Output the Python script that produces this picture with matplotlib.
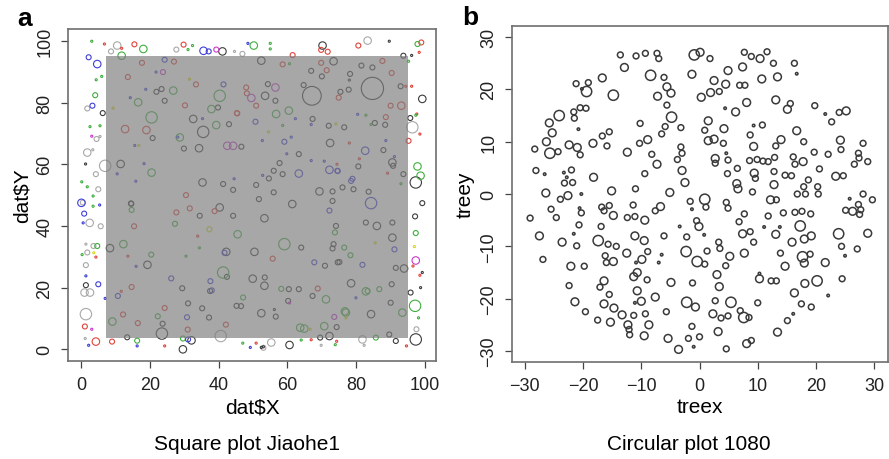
import matplotlib
matplotlib.use("Agg")
import matplotlib.pyplot as plt
from matplotlib.patches import Rectangle

plt.rcParams['font.family'] = ['Liberation Sans', 'DejaVu Sans']

# ---------------- panel a : Jiaohe1 square plot (x, y, size class) by colour group
core_x0, core_x1 = 7.2, 94.9      # shaded core area
core_y0, core_y1 = 3.7, 95.0

a_black_x = [41.1, 70.2, 89.6, 93.7, 6.3, 1.3, 99.2, 95.7, 97.3, 99.2, 97.1,
             67.1, 84.7, 35.5, 32.6, 20.8, 21.9, 23.4, 24.3, 39.8, 43.0, 29.9, 34.3, 46.6,
             52.4, 53.5, 54.3, 56.5, 64.7, 66.9, 70.0, 73.4, 78.2, 78.0, 81.5, 84.7, 92.9,
             75.4, 77.8, 72.4, 76.5, 87.9, 90.5, 93.7, 90.7, 85.4, 88.4, 67.3, 72.0, 63.3,
             58.6, 56.0, 54.6, 69.3, 73.1, 76.0, 79.2, 83.6, 73.1, 80.6, 61.4, 53.3, 40.3,
             44.2, 35.3, 41.3, 44.2, 50.9, 56.0, 51.7, 57.7, 11.5, 14.5, 34.5, 86.0, 82.8,
             90.5, 74.1,
             1.4, 8.4, 29.6, 19.3, 23.5, 23.7, 32.1, 13.4, 29.4, 31.1, 35.2, 37.2, 37.5,
             42.2, 49.9, 50.4, 53.4, 53.3, 42.4, 45.2, 52.4, 56.6, 64.0, 60.4, 63.3, 60.2,
             67.3, 60.6, 73.1, 73.4, 75.1, 70.9, 78.5, 69.5, 72.2, 74.3, 84.3, 90.3, 90.0,
             90.5, 93.9, 95.8, 91.5, 97.3, 99.2, 98.7, 14.6, 46.5, 53.0,
             96.1, 56.2, 74.6, 91.5, 89.6, 52.4]
a_black_y = [96.6, 98.5, 99.9, 95.2, 76.6, 60.1, 81.2, 75.0, 54.1, 47.4, 43.1,
             82.2, 84.6, 70.5, 74.7, 68.5, 83.5, 84.4, 80.6, 78.4, 73.0, 65.1, 65.2, 65.7,
             93.6, 82.2, 86.0, 80.6, 85.7, 90.3, 88.5, 93.4, 89.3, 87.3, 92.0, 91.4, 85.3,
             83.5, 84.2, 66.9, 72.0, 64.6, 60.6, 56.8, 59.5, 73.4, 72.8, 74.7, 72.5, 63.3,
             56.8, 57.9, 55.4, 51.2, 51.2, 52.5, 51.9, 51.1, 48.1, 59.3, 47.1, 42.5, 46.0,
             43.3, 54.1, 53.6, 51.7, 53.3, 50.9, 48.7, 60.4, 60.1, 47.3, 43.3, 40.0, 41.1,
             41.1, 40.0,
             20.8, 32.8, 0.0, 27.4, 5.1, 8.3, 2.9, 3.9, 19.8, 14.9, 13.3, 10.3, 18.9,
             31.6, 22.9, 31.6, 23.3, 20.6, 23.5, 14.1, 11.7, 10.6, 33.0, 19.5, 19.5, 15.7,
             17.3, 1.4, 32.7, 34.1, 28.3, 27.1, 21.4, 3.8, 4.3, 7.2, 11.4, 21.1, 15.1,
             36.2, 26.2, 18.4, 2.7, 3.2, 24.9, 20.0, 47.2, 14.0, 0.8,
             95.3, 12.9, 28.2, 26.4, 4.8, 0.6]
a_black_s = [3, 3, 1, 2, 2, 1, 3, 2, 4, 2, 2,
             5, 6, 4, 3, 2, 2, 2, 2, 2, 2, 2, 3, 2,
             3, 3, 2, 2, 2, 2, 2, 3, 2, 1, 2, 2, 2,
             2, 2, 3, 2, 2, 3, 2, 2, 2, 2, 2, 2, 2,
             2, 2, 2, 3, 2, 2, 2, 2, 2, 2, 3, 3, 3,
             2, 3, 2, 2, 2, 2, 2, 2, 3, 2, 2, 3, 2,
             2, 2,
             2, 3, 3, 3, 4, 2, 3, 2, 2, 2, 2, 2, 2,
             3, 3, 3, 2, 3, 2, 2, 3, 2, 2, 2, 2, 2,
             2, 3, 2, 2, 2, 2, 3, 2, 3, 2, 3, 2, 2,
             3, 3, 2, 2, 4, 1, 1, 2, 2, 1,
             1, 1, 2, 2, 2, 1]

a_grey_x = [10.5, 8.7, 27.7, 44.6, 46.9, 83.3, 1.8, 1.8, 3.4, 4.3, 5.0, 0.5, 5.5, 4.5,
            7.0, 96.3, 1.4, 1.0, 2.6, 1.4, 1.2, 1.8, 3.6, 1.4, 55.3, 53.0, 81.8, 97.5, 40.6,
            2.5, 5.7, 82.3, 69.8]
a_grey_y = [98.5, 96.6, 97.2, 96.6, 95.8, 100.1, 78.1, 63.8, 64.7, 56.8, 51.9, 47.6, 69.0, 68.2,
            59.5, 72.0, 11.4, 18.4, 18.4, 27.3, 3.5, 31.4, 33.5, 34.1, 2.2, 0.5, 3.2, 6.5, 4.3,
            41.0, 39.9, 1.3, 1.3]
a_grey_s = [3, 2, 2, 1, 2, 3, 2, 3, 1, 2, 2, 2, 1, 2,
            4, 4, 4, 3, 3, 2, 1, 2, 2, 1, 3, 2, 3, 2, 4,
            3, 2, 1, 1]

a_red_x = [6.8, 11.8, 15.5, 29.8, 61.5, 69.8, 71.7, 80.6, 98.9, 98.3, 97.6, 95.2, 98.5,
           12.8, 19.0, 48.0, 50.9, 48.2, 45.4, 90.3, 90.0, 93.1, 27.7, 31.6, 4.3, 1.1,
           9.0, 24.3, 14.7, 55.7, 68.8, 13.6, 33.4, 30.2, 17.7, 27.0, 45.3, 30.5, 15.4,
           12.2, 16.5, 98.5, 96.5, 94.6,
           58.6, 69.8, 71.4, 87.6, 74.9, 88.6, 94.4, 96.1, 78.0, 74.4, 80.9, 89.1, 4.3,
           13.6, 11.7, 24.3, 33.9, 31.0, 42.1, 38.8, 66.9, 50.9, 74.3]
a_red_y = [99.0, 97.6, 98.9, 98.8, 95.4, 97.1, 96.5, 98.5, 99.5, 96.3, 76.3, 67.6, 69.8,
           71.4, 71.1, 84.9, 79.0, 83.0, 76.5, 89.6, 79.0, 79.0, 44.4, 45.7, 2.5, 7.4,
           2.5, 1.1, 20.2, 29.4, 19.7, 88.3, 85.9, 79.1, 92.9, 93.3, 76.6, 50.0, 39.9,
           11.3, 8.5, 24.0, 27.0, 1.1,
           92.4, 92.9, 90.5, 93.5, 81.6, 75.3, 85.3, 85.3, 66.9, 60.0, 61.8, 57.1, 29.9,
           30.2, 18.8, 13.4, 36.7, 6.4, 8.0, 44.8, 3.1, 2.0, 2.6]
a_red_s = [1, 1, 2, 2, 2, 2, 2, 2, 2, 1, 1, 2, 1,
           3, 3, 2, 2, 2, 2, 2, 2, 3, 2, 2, 3, 2,
           2, 1, 2, 2, 2, 2, 2, 2, 2, 2, 2, 2, 2,
           2, 2, 1, 1, 1,
           2, 2, 2, 2, 2, 2, 1, 1, 1, 1, 1, 1, 1,
           1, 1, 2, 1, 2, 2, 2, 1, 1, 1]

a_green_x = [3.1, 18.1, 31.1, 32.4, 50.2, 55.0, 55.0, 97.8, 11.8, 1.8, 4.4, 6.0, 4.1, 5.5,
             2.6, 0.2, 97.8, 98.7, 40.3, 20.5, 28.7, 37.9, 39.3, 26.8, 20.5, 16.6, 60.4,
             56.7, 14.7, 4.7, 59.1, 85.7, 97.1, 97.3, 45.5, 47.1, 41.3, 71.2, 77.0, 83.3,
             86.7, 78.3, 76.5, 73.8, 93.4, 63.7, 9.1, 12.3, 76.7, 82.8, 64.9, 70.7, 22.3,
             47.0, 73.9, 64.0,
             60.6, 82.8, 97.3, 95.2, 58.6, 84.3, 93.0, 3.5, 3.5, 0.3, 16.3, 29.6, 20.4,
             30.5, 27.3, 34.4, 58.2, 98.1]
a_green_y = [99.9, 97.4, 97.2, 98.5, 98.5, 99.2, 97.4, 99.0, 95.2, 52.7, 87.4, 88.5, 82.4, 72.5,
             72.2, 54.3, 59.3, 56.3, 82.2, 75.2, 68.7, 77.9, 72.7, 83.9, 57.3, 80.1, 77.4,
             76.3, 45.2, 33.5, 34.1, 3.8, 14.1, 37.7, 37.3, 16.8, 24.9, 16.2, 11.9, 18.9,
             19.5, 30.5, 33.0, 37.9, 11.9, 7.0, 9.0, 34.1, 12.3, 18.8, 6.7, 7.5, 10.7,
             2.0, 1.5, 3.0,
             92.6, 75.9, 75.9, 93.4, 72.6, 72.9, 53.7, 46.4, 49.7, 30.7, 2.8, 3.5, 30.7,
             30.2, 40.7, 32.9, 19.6, 10.2]
a_green_s = [1, 3, 1, 1, 3, 1, 1, 2, 3, 1, 1, 1, 2, 1,
             1, 1, 3, 3, 4, 4, 3, 3, 3, 3, 3, 3, 3,
             3, 2, 2, 4, 2, 4, 2, 3, 2, 4, 3, 3, 2,
             2, 2, 2, 2, 3, 3, 3, 3, 3, 3, 3, 3, 2,
             1, 1, 1,
             1, 1, 1, 1, 1, 1, 1, 1, 1, 1, 2, 2, 2,
             1, 2, 1, 2, 1]

a_blue_x = [2.2, 4.7, 35.6, 37.1, 48.5, 3.3, 0.9, 82.6, 59.1, 50.7, 63.3, 84.3, 78.5, 74.5,
            1.4, 5.0, 16.3, 10.7, 31.1, 81.8, 24.3, 41.4, 14.3, 18.8, 15.6, 18.3, 10.5,
            15.9, 21.8, 28.1, 35.3, 44.5, 72.2, 67.8, 91.1, 30.8, 37.6, 38.0, 41.7, 26.2,
            61.1, 62.3, 66.9, 80.4, 91.1, 88.6, 52.8, 66.9, 70.7, 72.2, 74.6, 78.9, 59.8,
            52.7, 0.1, 5.4, 0.6, 7.0, 2.2, 49.2, 16.0, 79.9]
a_blue_y = [94.7, 92.5, 96.8, 96.6, 99.2, 79.0, 44.0, 64.4, 67.3, 73.8, 57.0, 47.4, 54.6, 57.9,
            23.8, 21.1, 1.1, 17.3, 3.2, 27.4, 93.9, 85.9, 81.6, 84.3, 66.1, 60.2, 56.9,
            54.5, 89.9, 68.8, 74.8, 55.3, 45.0, 28.2, 32.4, 10.4, 22.1, 19.1, 31.3, 23.0,
            68.8, 74.8, 72.9, 76.2, 62.5, 67.7, 56.4, 61.2, 61.0, 58.2, 57.8, 55.3, 63.4,
            67.7, 47.5, 46.8, 41.0, 16.5, 1.3, 0.6, 26.9, 16.7]
a_blue_s = [2, 3, 3, 2, 1, 2, 2, 3, 2, 2, 3, 4, 2, 2,
            1, 2, 1, 2, 2, 2, 2, 2, 1, 1, 1, 1, 1,
            1, 1, 1, 1, 1, 2, 2, 2, 2, 2, 2, 2, 2,
            1, 1, 1, 1, 1, 1, 1, 1, 1, 3, 2, 2, 1,
            1, 3, 1, 1, 1, 1, 1, 1, 1]

a_magenta_x = [39.3, 3.1, 42.5, 44.2, 49.5, 56.5, 3.1, 97.3, 23.8, 73.6, 60.6]
a_magenta_y = [97.2, 69.1, 66.0, 66.0, 81.5, 84.9, 6.5, 28.8, 89.9, 10.5, 15.0]
a_magenta_s = [2, 1, 3, 3, 3, 3, 1, 3, 2, 2, 1]

a_yellow_x = [96.9, 66.6, 9.3, 31.5, 16.8, 37.3, 74.1, 54.5, 3.7, 85.5, 77.0]
a_yellow_y = [33.3, 6.5, 78.2, 87.6, 66.1, 38.9, 73.1, 70.5, 31.3, 34.5, 10.2]
a_yellow_s = [1, 1, 1, 1, 1, 2, 1, 1, 1, 1, 1]

# ---------------- panel b : circular plot 1080 (treex, treey, size class)
b_x = [-13.6, -10.9, -9.3, -7.3, -7.0, -0.9, 0.1, 1.8, 7.7, 8.9, 10.4, 11.6, 16.3, 16.7,
       -12.9, -1.3, -8.4, -6.1, 0.3, 7.4, 10.7, 13.4, 12.7, 4.9, 2.5, 6.9, 7.8, 1.9, 3.4,
       4.5, -5.6, -7.2, -4.9, -14.8, -16.7, -21.2, -19.4, -19.1, -20.2, -24.1, -25.8, -25.3,
       -26.3, -28.3, -21.6, -20.5, -19.5, -21.5, -20.8, -22.4, -21.0, -20.5, -24.3, -25.7,
       -18.3, -16.7, -15.5, -15.9, -12.4, -10.2, -10.3, -8.9, -8.2, -6.5, -5.9, -5.6, -4.8,
       -3.2, -3.2, -3.0, -7.3, -9.4, -3.8, -3.0, -2.5, 1.5, 0.9, 1.5, 2.5, 4.2, 4.1, 4.4,
       6.2, 8.1, 8.7, 9.3, 9.3, 10.8, 14.0, 13.1, 16.7, 17.9, 15.1, 15.6, 13.1, 19.8, 21.6,
       22.7, 24.0, 25.2, 24.2, 24.3, 22.1, 19.7, 28.1, 27.3, 27.4, 28.9, 26.6, 23.4, 24.7,
       17.8, 16.4, 16.1, 14.7, 15.8, 18.7, 20.6, 20.3, 20.4, 16.8, 18.2, 17.9, 12.9, 11.8,
       10.9, 12.8, 8.6, 9.9, 9.4, 9.6, 2.7, 2.7, 4.9, 4.6, 4.8, 6.5, 6.4, 6.6, 9.1, 12.8,
       12.2, 13.2, 16.4, 17.6, 19.1, 14.4, 11.8, 7.7, 6.8, 4.9, 4.6, 0.9, 1.1, -1.6, -1.3,
       -0.5, -0.1, -3.4, -6.7, -7.6, -5.1, -9.4, -11.0, -11.4, -12.4, -11.1, -14.8, -15.1,
       -15.5, -16.4, -16.8, -16.9, -18.2, -20.3, -20.6, -20.7, -20.3, -22.6, -23.9, -26.4,
       -25.5, -24.6, -29.1, -26.6, -28.1, -21.8, -23.2, -22.0, -23.3, -22.8, 26.3, 25.1,
       25.8, 27.3, 27.7, 27.5, 28.1, 29.7, 17.3, 11.1, 13.8,
       -27.5, -26.9, -23.6, -21.6, -21.1, -22.1, -19.8, -22.4, -21.4, -19.6, -17.4, -15.7,
       -14.3, -16.2, -16.0, -14.8, -16.4, -17.1, -15.5, -16.4, -14.7, -17.5, -15.3, -13.3,
       -12.5, -11.1, -9.5, -8.9, -9.9, -10.9, -10.7, -11.3, -9.0, -10.7, -10.0, -11.1, -9.3,
       -11.3, -12.3, -12.1, -12.0, -8.7, -9.5, -7.6, -6.1, -6.5, -7.0, -4.9, -5.7, -5.4,
       -3.6, -2.2, -2.3, -0.4, 0.9, -1.2, -2.2, -0.7, -1.3, -1.9, 0.0, -1.0, 1.3, 0.8, 3.3,
       3.5, 3.0, 3.4, 5.2, 4.5, 2.7, 5.4, 2.3, 3.7, 4.9, 3.2, 4.6, 7.4, 8.7, 9.3, 7.7, 7.0,
       7.6, 8.5, 8.1, 8.9, 10.0, 10.3, 10.3, 12.3, 13.2, 13.1, 13.9, 14.7, 13.4, 15.9, 15.1,
       16.3, 16.1, 18.0, 19.2, 17.7, 19.0, 18.0, 18.1, 17.5, 19.2, 20.2, 21.6, 22.1, 23.9,
       24.4, 25.0, 24.5, 27.1, 28.9]
b_y = [26.6, 26.4, 26.9, 26.9, 25.9, 26.6, 27.1, 25.9, 27.1, 26.3, 25.9, 27.2, 25.0, 23.0,
       24.2, 22.9, 22.7, 22.3, 18.5, 24.3, 22.0, 22.4, 25.0, 23.6, 21.7, 20.8, 20.8, 19.4, 19.6,
       21.0, 20.5, 18.7, 19.3, 18.9, 22.2, 21.1, 19.6, 21.3, 20.1, 15.0, 13.6, 11.7,
       10.0, 8.6, 15.7, 16.5, 16.4, 14.5, 12.4, 9.4, 8.9, 7.5, 8.1, 7.8,
       9.7, 11.1, 11.9, 9.2, 8.0, 13.5, 9.7, 10.4, 7.6, 11.5, 12.9, 17.0, 14.7,
       12.7, 9.0, 7.8, 5.7, 3.9, 6.6, 4.5, 2.2, 14.0, 12.2, 10.2, 10.5, 12.5, 9.7, 16.4,
       15.7, 17.5, 11.3, 9.1, 13.1, 13.2, 10.4, 9.2, 12.1, 10.0, 16.2, 17.3, 18.0, 16.9, 15.3,
       13.8, 15.6, 15.9, 10.3, 8.5, 7.6, 8.0, 9.7, 7.8, 6.9, 6.2, 5.7, 3.4, 3.5,
       6.2, 5.7, 7.1, 3.6, 3.5, 2.7, 4.8, 1.4, 0.0, 0.0, 0.0, 1.4, 7.0, 6.2,
       6.3, 4.3, 6.4, 6.6, 4.0, 3.0, 6.8, 5.9, 6.5, 7.8, 3.9, 4.9, 2.0, 1.0, 0.4, 1.8,
       -1.1, -1.1, -3.5, -3.3, -3.8, -3.6, -4.2, -3.8, -5.3, -2.7, -1.6, -1.0, -2.5, -1.4, -2.9,
       -5.1, -6.2, -6.2, -2.4, -3.2, 0.3, -5.0, 1.0, -2.1, -4.5, -4.3, -4.1, 0.6,
       -2.2, -3.2, -2.5, -6.2, 3.2, -3.6, -2.7, -5.9, 0.0, -0.3, -1.0, 0.2,
       -2.9, -4.5, -4.6, 3.8, 4.5, 2.2, 2.1, 4.6, 4.1, 3.2, -3.3, -3.1,
       -0.9, -2.0, -3.0, -3.9, 0.0, -1.1, -6.1, -6.3, -6.3,
       -8.0, -12.5, -9.2, -7.6, -9.9, -13.8, -13.8, -17.5, -20.6, -22.5, -8.9, -9.6,
       -10.0, -11.8, -13.1, -12.9, -16.6, -17.8, -19.2, -21.0, -21.8, -24.1, -24.5, -23.1,
       -11.3, -8.0, -8.9, -11.0, -12.5, -13.1, -15.0, -15.8, -16.4, -18.5, -20.5, -20.8, -22.9,
       -23.2, -25.0, -25.9, -26.9, -25.0, -27.1, -19.7, -8.0, -11.6, -13.1, -16.9, -22.5, -27.6,
       -29.7, -8.2, -11.0, -12.9, -13.4, -17.0, -20.7, -21.6, -25.3, -27.6, -27.3, -29.2, -10.9, -7.8, -9.2,
       -10.4, -15.4, -17.7, -11.9, -13.7, -20.4, -20.7, -22.9, -23.7, -23.3, -26.3, -29.6, -7.6, -7.2, -9.2, -11.3, -22.3,
       -23.6, -23.6, -28.6, -28.0, -20.8, -16.2, -15.2, -16.6, -16.6, -7.7, -11.3, -13.8, -26.4, -9.2, -24.2,
       -18.9, -22.9, -8.6, -8.0, -12.0, -11.5, -13.2, -17.1, -21.0, -21.6, -16.6, -13.1, -19.4, -7.6,
       -10.0, -11.8, -16.2, -10.5, -7.5]
b_s = [2, 2, 2, 2, 2, 4, 3, 2, 2, 2, 3, 2, 2, 1,
       3, 3, 4, 2, 3, 3, 3, 3, 2, 3, 3, 2, 2, 3, 2,
       3, 3, 3, 3, 4, 3, 2, 4, 2, 1, 4, 3, 3,
       3, 2, 2, 2, 2, 2, 1, 3, 3, 2, 2, 4,
       3, 2, 2, 2, 3, 2, 2, 3, 2, 2, 2, 2, 4,
       2, 2, 2, 3, 2, 2, 3, 3, 3, 2, 3, 3, 3, 2, 1,
       3, 3, 2, 3, 1, 2, 3, 2, 3, 2, 3, 2, 3, 2, 1,
       2, 2, 3, 3, 2, 2, 2, 2, 2, 2, 2, 2, 3, 2,
       3, 2, 2, 2, 2, 2, 2, 2, 2, 2, 2, 2, 2, 2,
       2, 2, 2, 2, 3, 2, 3, 2, 2, 1, 2, 2, 3, 3, 2, 3,
       3, 2, 2, 2, 2, 2, 2, 2, 2, 2, 2, 4, 2, 2, 1,
       2, 3, 1, 3, 2, 3, 3, 2, 2, 2, 2, 3, 3,
       2, 2, 2, 2, 3, 2, 1, 2, 1, 3, 2, 3,
       2, 2, 2, 1, 2, 2, 2, 2, 1, 1, 3, 2,
       1, 2, 2, 2, 2, 2, 4, 1, 1,
       3, 2, 3, 1, 2, 3, 2, 2, 3, 2, 4, 2,
       2, 2, 2, 3, 3, 2, 2, 3, 3, 2, 3, 3,
       3, 3, 3, 2, 3, 1, 3, 3, 2, 3, 3, 1, 2,
       2, 3, 2, 2, 3, 3, 3, 2, 1, 1, 3, 2, 3,
       3, 2, 4, 4, 2, 2, 4, 3, 2, 2, 2, 1, 2, 1, 2,
       2, 3, 3, 3, 2, 2, 4, 3, 2, 2, 3, 2, 3, 2, 2, 3, 2,
       4, 2, 3, 2, 2, 3, 1, 2, 2, 3, 2, 3, 3, 3, 2,
       3, 1, 3, 3, 4, 2, 3, 3, 2, 2, 4, 3, 1, 4,
       2, 1, 2, 2, 3]

a_diam = {1: 1.5, 2: 3.6, 3: 5.4, 4: 8.2, 5: 13.5, 6: 16.0}
b_diam = {1: 1.8, 2: 4.2, 3: 5.6, 4: 7.4}

fig = plt.figure(figsize=(8.89, 4.60), dpi=100)
ax1 = fig.add_axes([0.0765, 0.213, 0.414, 0.722])
ax2 = fig.add_axes([0.576, 0.211, 0.423, 0.730])

groups = [(a_grey_x, a_grey_y, a_grey_s, '#a8a8a8'),
          (a_black_x, a_black_y, a_black_s, '#3c3c3c'),
          (a_red_x, a_red_y, a_red_s, '#e0443c'),
          (a_green_x, a_green_y, a_green_s, '#3fae3f'),
          (a_blue_x, a_blue_y, a_blue_s, '#3f3fd8'),
          (a_magenta_x, a_magenta_y, a_magenta_s, '#c83cc8'),
          (a_yellow_x, a_yellow_y, a_yellow_s, '#d8d820')]
for gx, gy, gs, col in groups:
    ax1.scatter(gx, gy, s=[a_diam[k] ** 2 for k in gs], facecolors='none',
                edgecolors=col, linewidths=0.8, zorder=2)
ax1.add_patch(Rectangle((core_x0, core_y0), core_x1 - core_x0, core_y1 - core_y0,
                        facecolor='#7d7d7d', alpha=0.68, edgecolor='none', zorder=3))
ax1.set_xlim(-3.8, 103.2)
ax1.set_ylim(-3.8, 103.9)
ax1.set_xticks([0, 20, 40, 60, 80, 100])
ax1.set_yticks([0, 20, 40, 60, 80, 100])

ax2.scatter(b_x, b_y, s=[b_diam[k] ** 2 for k in b_s], facecolors='none',
            edgecolors='#3a3a3a', linewidths=1.1)
ax2.set_xlim(-32.2, 32.4)
ax2.set_ylim(-32.1, 32.1)
ax2.set_xticks([-30, -20, -10, 0, 10, 20, 30])
ax2.set_yticks([-30, -20, -10, 0, 10, 20, 30])

for ax in (ax1, ax2):
    for sp in ax.spines.values():
        sp.set_color('#6e6e6e')
        sp.set_linewidth(1.2)
    ax.tick_params(direction='out', length=5, width=0.9, color='#444444',
                   labelsize=13, pad=5.5, labelcolor='#222222')
    ax.set_xticklabels([f'{t:g}'.replace('-', '\u2212') for t in ax.get_xticks()])
    ax.set_yticklabels([f'{t:g}'.replace('-', '\u2212') for t in ax.get_yticks()],
                       rotation=90, va='center')

fig.text(22 / 889, 1 - 196 / 460, 'dat$Y', rotation=90, ha='center', va='center', fontsize=15)
fig.text(252 / 889, 1 - 408 / 460, 'dat$X', ha='center', va='center', fontsize=15)
fig.text(465 / 889, 1 - 195 / 460, 'treey', rotation=90, ha='center', va='center', fontsize=15)
fig.text(700 / 889, 1 - 408 / 460, 'treex', ha='center', va='center', fontsize=15)
fig.text(247 / 889, 1 - 445 / 460, 'Square plot Jiaohe1', ha='center', va='center', fontsize=15)
fig.text(689 / 889, 1 - 445 / 460, 'Circular plot 1080', ha='center', va='center', fontsize=15)
fig.text(25 / 889, 1 - 19 / 460, 'a', ha='center', va='center', fontsize=19, fontweight='bold')
fig.text(470 / 889, 1 - 18 / 460, 'b', ha='center', va='center', fontsize=19, fontweight='bold')

fig.savefig('out.png', dpi=100)
